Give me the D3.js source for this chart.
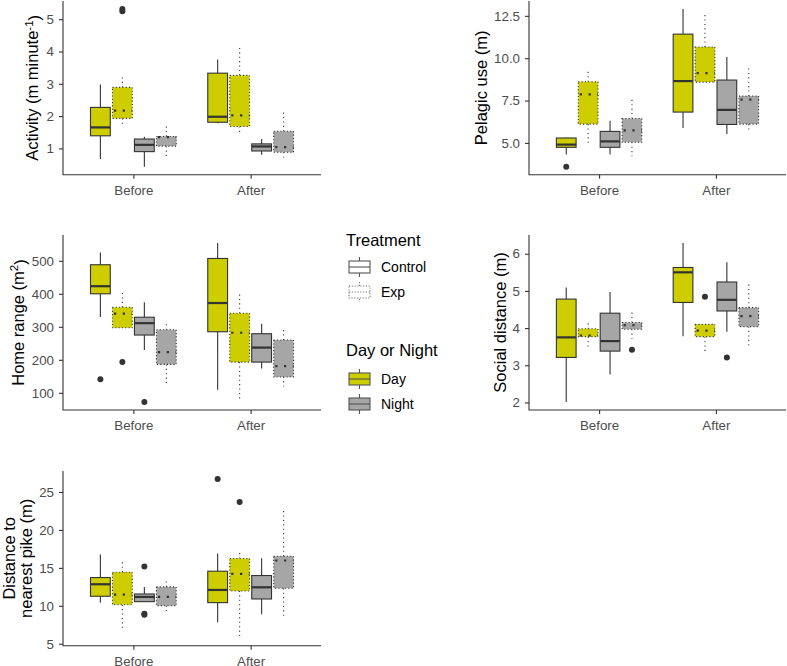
<!DOCTYPE html>
<html>
<head>
<meta charset="utf-8">
<script src="https://cdn.jsdelivr.net/npm/d3@7"></script>
<style>
  html, body { margin: 0; padding: 0; background: #fff; }
  svg { display: block; font-family: "Liberation Sans", Arial, sans-serif; }
</style>
</head>
<body>
<svg id="chart" width="787" height="666"></svg>
<script>
// ---------------- DATA ----------------
const periods = ["Before", "After"];
const dayNight = ["Day", "Night"];
const treatments = ["Control", "Exp"];
// order within each period: Day-Control, Day-Exp, Night-Control, Night-Exp
// stats = [lower whisker, Q1, median, Q3, upper whisker]

const activityStats = [
  [0.67, 1.39, 1.65, 2.27, 2.98], [1.76, 1.93, 2.17, 2.89, 3.23],
  [0.43, 0.90, 1.11, 1.29, 1.36], [0.75, 1.07, 1.35, 1.37, 1.70],
  [1.78, 1.81, 1.98, 3.33, 3.75], [1.50, 1.68, 2.02, 3.26, 4.17],
  [0.80, 0.92, 1.06, 1.14, 1.29], [0.72, 0.88, 1.04, 1.53, 2.17]
];
const activityOutliers = [[], [5.25, 5.32], [], [], [], [], [], []];
const activityTicks = [1, 2, 3, 4, 5];

const pelagicStats = [
  [4.31, 4.74, 4.90, 5.29, 5.32], [4.96, 6.11, 7.87, 8.61, 9.25],
  [4.31, 4.74, 5.09, 5.68, 6.31], [4.22, 5.04, 5.74, 6.44, 7.61],
  [5.88, 6.82, 8.65, 11.42, 12.91], [8.59, 8.59, 9.12, 10.66, 12.65],
  [5.53, 6.09, 6.95, 8.71, 10.07], [5.78, 6.11, 7.55, 7.77, 9.49]
];
const pelagicOutliers = [[3.59], [], [], [], [], [], [], []];
const pelagicTicks = [5.0, 7.5, 10.0, 12.5];

const homeStats = [
  [330, 400, 423, 488, 525], [297, 297, 340, 359, 407],
  [230, 275, 311, 329, 374], [129, 186, 223, 291, 309],
  [109, 285, 372, 507, 554], [79, 193, 282, 341, 407],
  [174, 193, 237, 279, 309], [119, 148, 181, 260, 291]
];
const homeOutliers = [[141], [193], [72], [], [], [], [], []];
const homeTicks = [100, 200, 300, 400, 500];

const socialStats = [
  [2.01, 3.21, 3.75, 4.78, 5.09], [3.49, 3.77, 3.80, 3.98, 4.15],
  [2.75, 3.38, 3.65, 4.40, 4.97], [3.71, 3.97, 4.08, 4.15, 4.46],
  [3.78, 4.69, 5.50, 5.63, 6.29], [3.38, 3.77, 3.93, 4.10, 4.10],
  [3.90, 4.46, 4.76, 5.24, 5.77], [3.53, 4.04, 4.32, 4.55, 5.22]
];
const socialOutliers = [[], [], [], [3.42], [], [4.84], [3.21], []];
const socialTicks = [2, 3, 4, 5, 6];

const pikeStats = [
  [10.42, 11.26, 12.84, 13.72, 16.76], [6.98, 10.15, 11.48, 14.43, 15.93],
  [10.55, 10.55, 11.17, 11.56, 12.49], [9.32, 10.02, 11.17, 12.49, 13.28],
  [7.82, 10.42, 12.09, 14.56, 16.89], [5.79, 11.96, 14.21, 16.23, 17.03],
  [8.88, 10.90, 12.44, 13.99, 16.28], [8.52, 12.31, 15.97, 16.54, 22.84]
];
const pikeOutliers = [[], [], [15.18, 8.83, 8.95], [], [26.72], [23.68], [], []];
const pikeTicks = [5, 10, 15, 20, 25];

// ---------------- STYLE / LAYOUT ----------------
const fillColor = { Day: "#CDCD00", Night: "#A6A6A6" };
const ink = "#333333";
const tickTextColor = "#4D4D4D";

const panels = [
  { stats: activityStats, outs: activityOutliers, ticks: activityTicks, fmt: d3.format("d"),
    x0: 63, x1: 321, y0: 174.7, y1: 1, title: [["Activity (m minute", "-1", ")"]], titleX: [38] },
  { stats: pelagicStats, outs: pelagicOutliers, ticks: pelagicTicks, fmt: d3.format(".1f"),
    x0: 529, x1: 786, y0: 174.7, y1: 1, title: [["Pelagic use (m)"]], titleX: [487] },
  { stats: homeStats, outs: homeOutliers, ticks: homeTicks, fmt: d3.format("d"),
    x0: 63, x1: 321, y0: 410, y1: 235, title: [["Home range (m", "2", ")"]], titleX: [23.5] },
  { stats: socialStats, outs: socialOutliers, ticks: socialTicks, fmt: d3.format("d"),
    x0: 529, x1: 786, y0: 410, y1: 235, title: [["Social distance (m)"]], titleX: [506] },
  { stats: pikeStats, outs: pikeOutliers, ticks: pikeTicks, fmt: d3.format("d"),
    x0: 63, x1: 321, y0: 645.7, y1: 471, title: [["Distance to"], ["nearest pike (m)"]], titleX: [15, 31.5] }
];

const svg = d3.select("#chart");

const groups = [];
periods.forEach(p => dayNight.forEach(dn => treatments.forEach(t => groups.push({ period: p, dn: dn, trt: t }))));

panels.forEach(P => {
  const g = svg.append("g");
  const x = d3.scalePoint().domain(periods).range([P.x0, P.x1]).padding(0.6);
  const all = [];
  P.stats.forEach(s => { all.push(s[0], s[4]); });
  P.outs.forEach(o => o.forEach(v => all.push(v)));
  const mn = d3.min(all), mx = d3.max(all), rg = mx - mn;
  const y = d3.scaleLinear().domain([mn - 0.05 * rg, mx + 0.05 * rg]).range([P.y0, P.y1]);

  const slot = x.step() * 0.75 / 4;
  const bw = slot * 0.9;

  groups.forEach((gr, i) => {
    const s = P.stats[i];
    const k = i % 4;
    const cx = x(gr.period) + (k - 1.5) * slot;
    const dotted = gr.trt === "Exp";
    // whiskers
    g.append("line").attr("x1", cx).attr("x2", cx).attr("y1", y(s[3])).attr("y2", y(s[4]))
      .attr("stroke", ink).attr("stroke-width", 1.1).attr("stroke-dasharray", dotted ? "1.1,3.3" : null);
    g.append("line").attr("x1", cx).attr("x2", cx).attr("y1", y(s[1])).attr("y2", y(s[0]))
      .attr("stroke", ink).attr("stroke-width", 1.1).attr("stroke-dasharray", dotted ? "1.1,3.3" : null);
    // box
    g.append("rect").attr("x", cx - bw / 2).attr("width", bw)
      .attr("y", y(s[3])).attr("height", Math.max(0.5, y(s[1]) - y(s[3])))
      .attr("fill", fillColor[gr.dn]).attr("stroke", ink).attr("stroke-width", 1.1)
      .attr("stroke-dasharray", dotted ? "1.1,2.2" : null);
    // median
    g.append("line").attr("x1", cx - bw / 2).attr("x2", cx + bw / 2).attr("y1", y(s[2])).attr("y2", y(s[2]))
      .attr("stroke", ink).attr("stroke-width", 2.2).attr("stroke-dasharray", dotted ? "2.2,6.6" : null)
      .attr("stroke-dashoffset", dotted ? -1.5 : null);
    // outliers
    P.outs[i].forEach(v => {
      g.append("circle").attr("cx", cx).attr("cy", y(v)).attr("r", 3).attr("fill", ink);
    });
  });

  // axes
  const yAxis = d3.axisLeft(y).tickValues(P.ticks).tickFormat(P.fmt).tickSize(4).tickPadding(5);
  const ya = g.append("g").attr("transform", `translate(${P.x0},0)`).call(yAxis);
  const xAxis = d3.axisBottom(x).tickSize(4).tickPadding(4);
  const xa = g.append("g").attr("transform", `translate(0,${P.y0})`).call(xAxis);
  [ya, xa].forEach(a => {
    a.select(".domain").remove();
    a.selectAll(".tick line").attr("stroke", ink).attr("stroke-width", 1.1);
    a.selectAll(".tick text").attr("fill", tickTextColor).style("font-size", "13.3px")
      .style("font-family", "'Liberation Sans', Arial, sans-serif");
  });
  xa.selectAll(".tick text").attr("dy", "0.9em");
  // axis lines (L shape)
  g.append("path").attr("d", `M${P.x0},${P.y1}V${P.y0}H${P.x1}`)
    .attr("fill", "none").attr("stroke", ink).attr("stroke-width", 1.1);

  // y title
  const cy = (P.y0 + P.y1) / 2;
  P.title.forEach((parts, li) => {
    const t = g.append("text").attr("transform", `translate(${P.titleX[li]},${cy}) rotate(-90)`)
      .attr("text-anchor", "middle").attr("fill", "#000").style("font-size", "16.5px");
    t.append("tspan").text(parts[0]);
    if (parts.length > 1) {
      t.append("tspan").attr("dy", "-0.45em").style("font-size", "11.5px").text(parts[1]);
      t.append("tspan").attr("dy", "0.45em").text(parts[2]);
    }
  });
});

// ---------------- LEGEND ----------------
const lg = svg.append("g");
const legendBlocks = [
  { title: "Treatment", ty: 246, items: treatments.map((t, i) => ({ label: t, y: 267 + i * 25, fill: "#fff", dotted: t === "Exp" })) },
  { title: "Day or Night", ty: 356, items: dayNight.map((d, i) => ({ label: d, y: 379 + i * 25, fill: fillColor[d], dotted: false })) }
];
legendBlocks.forEach(b => {
  lg.append("text").attr("x", 346).attr("y", b.ty).style("font-size", "16.5px").attr("fill", "#000").text(b.title);
  b.items.forEach(it => {
    const cx = 359.5;
    const stroke = it.dotted ? "#777" : "#555";
    const dash = it.dotted ? "1.2,1.6" : null;
    lg.append("line").attr("x1", cx).attr("x2", cx).attr("y1", it.y - 10).attr("y2", it.y + 10)
      .attr("stroke", stroke).attr("stroke-width", 1.1).attr("stroke-dasharray", dash);
    lg.append("rect").attr("x", cx - 10.5).attr("y", it.y - 6).attr("width", 21).attr("height", 12)
      .attr("fill", it.fill).attr("stroke", stroke).attr("stroke-width", 1.1).attr("stroke-dasharray", dash);
    lg.append("line").attr("x1", cx - 10.5).attr("x2", cx + 10.5).attr("y1", it.y).attr("y2", it.y)
      .attr("stroke", stroke).attr("stroke-width", 1.1).attr("stroke-dasharray", dash);
    lg.append("text").attr("x", 381).attr("y", it.y).attr("dy", "0.35em").style("font-size", "14px")
      .attr("fill", "#000").text(it.label);
  });
});
</script>
</body>
</html>
